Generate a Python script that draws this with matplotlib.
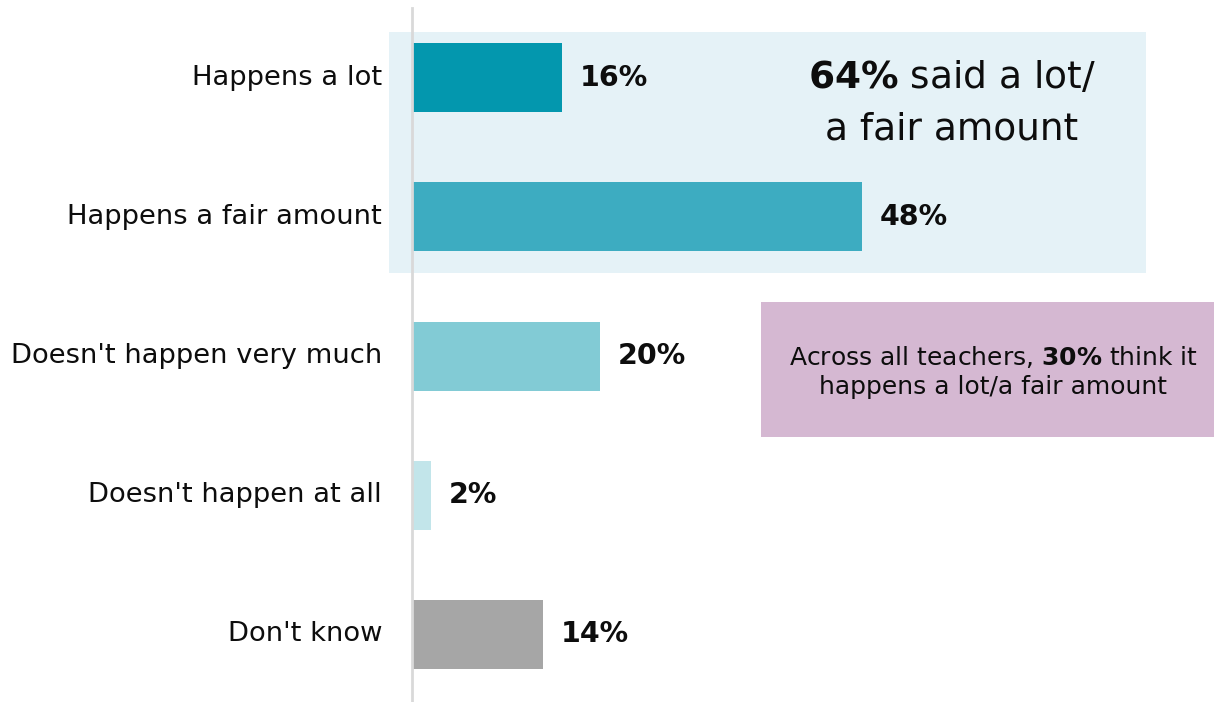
import matplotlib
matplotlib.use("Agg")
import matplotlib.pyplot as plt
from matplotlib.patches import Rectangle

categories = ["Happens a lot", "Happens a fair amount", "Doesn't happen very much",
              "Doesn't happen at all", "Don't know"]
values = [16, 48, 20, 2, 14]
colors = ["#0397AE", "#3DACC1", "#82CBD5", "#C2E5EA", "#A6A6A6"]
value_labels = ["16%", "48%", "20%", "2%", "14%"]
callout_main = r"$\mathbf{64\%}$ said a lot/" + "\na fair amount"
callout_side = "Across all teachers, $\\mathbf{30\\%}$ think it\nhappens a lot/a fair amount"

W, H = 1214, 702
fig = plt.figure(figsize=(W / 100, H / 100), dpi=100)
plt.rcParams['font.family'] = ['DejaVu Sans']
plt.rcParams['mathtext.fontset'] = 'dejavusans'

left_px, top_px = 412, 8
ax = fig.add_axes([left_px / W, 0, 1 - left_px / W, 1 - top_px / H])
px_per_unit = 9.375
xmax = (W - left_px) / px_per_unit
ax.set_xlim(0, xmax)
ax.set_ylim(4.485, -0.5)

y = list(range(len(categories)))
ax.barh(y, values, height=0.495, color=colors, zorder=3)

# highlight background
ax.add_patch(Rectangle((-2.45, -0.327), 80.75, 1.733, facecolor="#E5F2F7",
                       edgecolor="none", zorder=1, clip_on=False))
# purple box
ax.add_patch(Rectangle((37.2, 1.609), xmax - 37.2, 0.969, facecolor="#D5B8D2",
                       edgecolor="none", zorder=1, clip_on=False))

for yi, v, lab in zip(y, values, value_labels):
    ax.text(v + 1.9, yi, lab, va="center", ha="left", fontsize=20.5,
            fontweight="bold", color="#0D0D0D", zorder=4)

for yi, c in zip(y, categories):
    ax.text(-3.2, yi, c, va="center", ha="right", fontsize=19.7, color="#0D0D0D")

ax.text(57.6, 0.19, callout_main, ha="center", va="center", fontsize=27,
        color="#0D0D0D", linespacing=1.55, zorder=4)
ax.text(62.0, 2.11, callout_side, ha="center", va="center", fontsize=18,
        color="#0D0D0D", linespacing=1.3, zorder=4)

for s in ["top", "right", "bottom"]:
    ax.spines[s].set_visible(False)
ax.spines["left"].set_color("#D9D9D9")
ax.spines["left"].set_linewidth(2)
ax.spines["left"].set_zorder(5)
ax.set_xticks([])
ax.set_yticks([])
ax.patch.set_alpha(0)

fig.savefig("out.png", dpi=100)
